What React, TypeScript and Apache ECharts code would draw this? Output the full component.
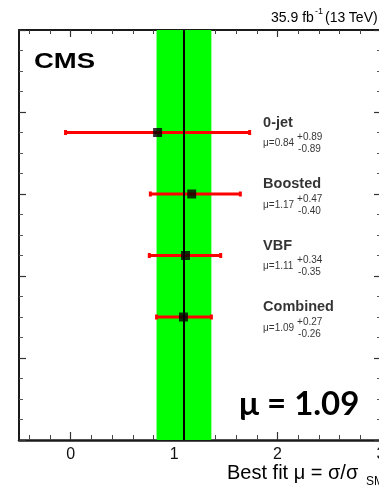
import React, { useEffect, useRef } from "react";
import * as echarts from "echarts";

// ---- data ----
const categories = ["0-jet", "Boosted", "VBF", "Combined"];
const muValues = [0.84, 1.17, 1.11, 1.09];
const errUp = [0.89, 0.47, 0.34, 0.27];
const errDown = [0.89, 0.4, 0.35, 0.26];
const yPositions = [3.75, 3.0, 2.25, 1.5];
const xMajorTicks = [0, 1, 2, 3];
const xMinorTicks = [-0.4, -0.2, 0.2, 0.4, 0.6, 0.8, 1.2, 1.4, 1.6, 1.8, 2.2, 2.4, 2.6, 2.8];
const combinedIndex = 3;

const ARIAL = "'Liberation Sans', Arial, sans-serif";
const LABEL_X = 1.86;

const fmt = (v: number) => v.toFixed(2);

export default function App() {
  const ref = useRef<HTMLDivElement>(null);
  useEffect(() => {
    document.body.style.margin = "0";
    const chart = echarts.init(ref.current!, undefined, { renderer: "svg" });
    const xRange = { min: -0.5, max: 3.0 };
    const baseX = {
      type: "value" as const,
      ...xRange,
      splitLine: { show: false },
      axisLabel: { show: false },
    };
    const labelPoints = (i: number) => [LABEL_X, yPositions[i]];
    const smallLabel = (offset: number[]) => ({
      show: true,
      position: "right",
      distance: 0,
      offset,
      formatter: (p: any) => p.name,
      color: "#000",
      fontFamily: ARIAL,
      fontSize: 10,
    });
    const option: any = {
      animation: false,
      grid: { left: 19, right: -2, top: 30, bottom: 58, outerBoundsMode: "none", containLabel: false },
      xAxis: [
        {
          ...baseX,
          position: "bottom",
          axisLine: { show: true, onZero: false, lineStyle: { color: "#1a1a1a", width: 2.5 } },
          axisTick: { show: true, inside: true, length: 8, customValues: xMajorTicks, lineStyle: { color: "#333", width: 1.2 } },
          axisLabel: {
            show: true,
            customValues: xMajorTicks,
            margin: 5,
            color: "#111",
            fontFamily: ARIAL,
            fontSize: 16,
          },
        },
        {
          ...baseX,
          position: "bottom",
          axisLine: { show: false, onZero: false },
          axisTick: { show: true, inside: true, length: 5, customValues: xMinorTicks, lineStyle: { color: "#444", width: 1 } },
        },
        {
          ...baseX,
          position: "top",
          axisLine: { show: true, onZero: false, lineStyle: { color: "#1a1a1a", width: 2 } },
          axisTick: { show: true, inside: true, length: 7, customValues: xMajorTicks, lineStyle: { color: "#333", width: 1.2 } },
        },
        {
          ...baseX,
          position: "top",
          axisLine: { show: false, onZero: false },
          axisTick: { show: true, inside: true, length: 4, customValues: xMinorTicks, lineStyle: { color: "#444", width: 1 } },
        },
      ],
      yAxis: [
        {
          type: "value",
          min: 0,
          max: 5,
          interval: 1,
          position: "left",
          splitLine: { show: false },
          axisLabel: { show: false },
          axisLine: { show: true, onZero: false, lineStyle: { color: "#1a1a1a", width: 2 } },
          axisTick: { show: true, inside: true, length: 7, lineStyle: { color: "#333", width: 1.2 } },
          minorTick: { show: true, splitNumber: 4, length: 4, lineStyle: { color: "#555", width: 1 } },
        },
        {
          type: "value",
          min: 0,
          max: 5,
          interval: 1,
          position: "right",
          splitLine: { show: false },
          axisLabel: { show: false },
          axisLine: { show: true, onZero: false, lineStyle: { color: "#1a1a1a", width: 2 } },
          axisTick: { show: true, inside: true, length: 7, lineStyle: { color: "#333", width: 1.2 } },
          minorTick: { show: true, splitNumber: 4, length: 4, lineStyle: { color: "#555", width: 1 } },
        },
      ],
      series: [
        {
          type: "line",
          data: [],
          z: 1,
          markArea: {
            silent: true,
            itemStyle: { color: "#00ff00", opacity: 1 },
            data: [
              [
                { xAxis: muValues[combinedIndex] - errDown[combinedIndex] },
                { xAxis: muValues[combinedIndex] + errUp[combinedIndex] },
              ],
            ],
          },
          markLine: {
            silent: true,
            symbol: "none",
            label: { show: false },
            lineStyle: { color: "#000", width: 2, type: "solid" },
            data: [{ xAxis: muValues[combinedIndex] }],
          },
        },
        {
          type: "custom",
          z: 3,
          data: categories.map((_, i) => [muValues[i] - errDown[i], muValues[i] + errUp[i], yPositions[i]]),
          encode: { x: [0, 1], y: 2 },
          renderItem: (params: any, api: any) => {
            const p1 = api.coord([api.value(0), api.value(2)]);
            const p2 = api.coord([api.value(1), api.value(2)]);
            return {
              type: "group",
              children: [
                { type: "line", shape: { x1: p1[0], y1: p1[1], x2: p2[0], y2: p2[1] }, style: { stroke: "#ff0000", lineWidth: 3 } },
                { type: "rect", shape: { x: p1[0] - 1.5, y: p1[1] - 2.5, width: 3, height: 5 }, style: { fill: "#ff0000" } },
                { type: "rect", shape: { x: p2[0] - 1.5, y: p2[1] - 2.5, width: 3, height: 5 }, style: { fill: "#ff0000" } },
              ],
            };
          },
        },
        {
          type: "scatter",
          z: 4,
          symbol: "rect",
          symbolSize: 9,
          itemStyle: { color: "#000" },
          data: categories.map((_, i) => [muValues[i], yPositions[i]]),
        },
        {
          type: "scatter",
          z: 5,
          symbolSize: 0,
          data: categories.map((c, i) => ({ value: labelPoints(i), name: c })),
          label: {
            show: true,
            position: "right",
            distance: 0,
            offset: [0, -11],
            formatter: (p: any) => p.name,
            color: "#000",
            fontFamily: ARIAL,
            fontWeight: "bold",
            fontSize: 14.5,
          },
        },
        {
          type: "scatter",
          z: 5,
          symbolSize: 0,
          data: categories.map((c, i) => ({ value: labelPoints(i), name: "μ=" + fmt(muValues[i]) })),
          label: smallLabel([0, 10]),
        },
        {
          type: "scatter",
          z: 5,
          symbolSize: 0,
          data: categories.map((c, i) => ({ value: labelPoints(i), name: "+" + fmt(errUp[i]) })),
          label: smallLabel([34, 4]),
        },
        {
          type: "scatter",
          z: 5,
          symbolSize: 0,
          data: categories.map((c, i) => ({ value: labelPoints(i), name: "-" + fmt(errDown[i]) })),
          label: smallLabel([35, 16]),
        },
      ],
      graphic: [
        {
          type: "text",
          x: 34,
          y: 60,
          scaleX: 1.25,
          style: { text: "CMS", fontFamily: ARIAL, fontWeight: "bold", fontSize: 22, fill: "#000", verticalAlign: "middle" },
        },
        {
          type: "text",
          x: 239,
          y: 402,
          style: {
            text: "μ = " + fmt(muValues[combinedIndex]),
            fontFamily: "Lato, 'Open Sans', sans-serif",
            fontWeight: "bold",
            fontSize: 33,
            fill: "#000",
            verticalAlign: "middle",
          },
        },
        { type: "text", x: 271, y: 17, style: { text: "35.9 fb", fontFamily: ARIAL, fontSize: 14, fill: "#000", verticalAlign: "middle" } },
        { type: "text", x: 315, y: 11, style: { text: "-1", fontFamily: ARIAL, fontSize: 9, fill: "#000", verticalAlign: "middle" } },
        { type: "text", x: 325, y: 17, style: { text: "(13 TeV)", fontFamily: ARIAL, fontSize: 14, fill: "#000", verticalAlign: "middle" } },
        { type: "text", x: 227, y: 472, style: { text: "Best fit μ = σ/σ", fontFamily: ARIAL, fontSize: 20, fill: "#000", verticalAlign: "middle" } },
        { type: "text", x: 366, y: 481, style: { text: "SM", fontFamily: ARIAL, fontSize: 12, fill: "#000", verticalAlign: "middle" } },
      ],
    };
    chart.setOption(option);
    return () => chart.dispose();
  }, []);
  return <div ref={ref} style={{ position: "fixed", left: 0, top: 0, width: 379, height: 498 }} />;
}
